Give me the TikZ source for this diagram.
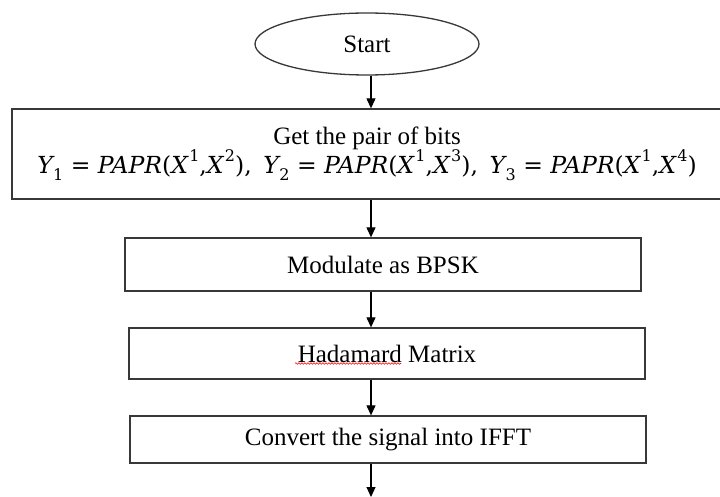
\documentclass[tikz,border=0pt]{standalone}
\usepackage{fontspec}
\setmainfont{Liberation Serif}
\newfontfamily\formfont{DejaVu Serif}
\usetikzlibrary{arrows.meta,shapes.geometric,decorations.pathmorphing}
\newcommand\vY[1]{\textit{Y}\kern-1.5pt\raisebox{-0.3em}{\fontsize{16}{16}\selectfont\upshape #1}}
\newcommand\vX[1]{\textit{X}\kern0.5pt\raisebox{0.5em}{\fontsize{16}{16}\selectfont\upshape #1}}
\newcommand\vP{\textit{PAPR}}
\begin{document}
\begin{tikzpicture}[x=1pt,y=-1pt,
  edge/.style={draw=black!78, line width=1.3pt},
  txt/.style={font=\fontsize{25}{30}\selectfont},
  flowbox/.style={edge, rectangle, inner sep=0pt, txt},
  arr/.style={draw=black, line width=1.1pt, -{Triangle[length=10pt,width=9pt]}},
]
\path[use as bounding box, clip] (0,0) rectangle (720,497);
\fill[white] (0,0) rectangle (720,497);
\node[edge, ellipse, minimum width=224pt, minimum height=62pt, inner sep=0pt, txt] (start) at (367,44) {Start};
\node[flowbox, minimum width=710pt, minimum height=90pt, align=center] (b1) at (367,154)
  {Get the pair of bits\\[-1pt]
   {\formfont\fontsize{23.5}{26}\selectfont \vY{1} = \vP(\vX{1},\vX{2}),\enspace \vY{2} = \vP(\vX{1},\vX{3}),\enspace \vY{3} = \vP(\vX{1},\vX{4})}};
\node[flowbox, minimum width=516pt, minimum height=53pt] (b2) at (383,264.5) {Modulate as BPSK};
\node[flowbox, minimum width=516pt, minimum height=51pt] (b3) at (387,353.5) {Hadamard Matrix};
\node[flowbox, minimum width=516pt, minimum height=47pt] (b4) at (388,439.5) {Convert the signal into IFFT};
\coordinate (ax) at (371,0);
\coordinate (end) at (371,497);
\draw[arr] (start.south -| ax) -- (b1.north -| ax);
\draw[arr] (b1.south -| ax) -- (b2.north -| ax);
\draw[arr] (b2.south -| ax) -- (b3.north -| ax);
\draw[arr] (b3.south -| ax) -- (b4.north -| ax);
\draw[arr] (b4.south -| ax) -- (end);
\draw[red, line width=0.6pt, decorate, decoration={snake, amplitude=0.8pt, segment length=3pt}]
  ([xshift=-92pt,yshift=-10pt]b3.center) -- ([xshift=14pt,yshift=-10pt]b3.center);
\end{tikzpicture}
\end{document}
